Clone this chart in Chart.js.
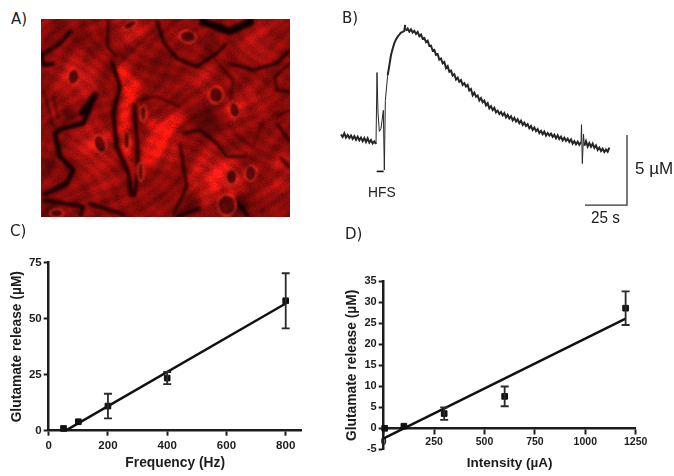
<!DOCTYPE html>
<html>
<head>
<meta charset="utf-8">
<script src="https://cdn.jsdelivr.net/npm/chart.js@4"></script>
<style>
  html, body { margin: 0; padding: 0; background: #fff; width: 674px; height: 476px; overflow: hidden; }
  canvas { position: absolute; }
  #trace, #freq, #intens { filter: blur(0.35px); }
  #photo { filter: blur(0.6px); }
  .lbl { position: absolute; font-family: "Liberation Sans", sans-serif; color: #222; white-space: nowrap; line-height: 1; }
  .panel { font-family: "DejaVu Sans", sans-serif; font-size: 15px; color: #222; }
</style>
</head>
<body>
<canvas id="photo" width="249" height="198" style="left:41px;top:19px"></canvas>
<canvas id="trace" width="339" height="235" style="left:335px;top:0"></canvas>
<canvas id="freq" width="330" height="256" style="left:0;top:220px"></canvas>
<canvas id="intens" width="339" height="256" style="left:335px;top:220px"></canvas>

<div class="lbl panel" style="left:11px;top:12px">A)</div>
<div class="lbl panel" style="left:342px;top:11px">B)</div>
<div class="lbl panel" style="left:10px;top:224px">C)</div>
<div class="lbl panel" style="left:345px;top:227px">D)</div>
<div class="lbl" style="left:368px;top:184px;font-size:15px;transform:scaleX(.92);transform-origin:left">HFS</div>
<div class="lbl" style="left:635px;top:160px;font-size:17px">5 µM</div>
<div class="lbl" style="left:591px;top:209px;font-size:17px;transform:scaleX(.9);transform-origin:left">25 s</div>

<script>
// panel C
const freqX = [50, 100, 200, 400, 800];
const freqY = [1, 4, 11, 23.5, 58];
const freqErr = [0, 0, 5.5, 2.7, 12.3];
const freqFitX = [57, 800];
const freqFitY = [0, 56.8];
const freqTicksX = [0, 200, 400, 600, 800];
const freqTicksY = [0, 25, 50, 75];

// panel D
const intensX = [5, 100, 300, 600, 1200];
const intensY = [0, 0.5, 3.5, 7.6, 28.6];
const intensErr = [0, 0, 1.5, 2.35, 4];
const intensFitX = [0, 1200];
const intensFitY = [-2.4, 26.1];
const intensTicksX = [0, 250, 500, 750, 1000, 1250];
const intensTicksY = [-5, 0, 5, 10, 15, 20, 25, 30, 35];

// panel B, recording (s, uM)
const traceT = [0,1,2,3,4,5,6,7,8,9,10,11,12,13,14,15,16,17,18,19,20,21,21.6,22.2,23,24,25.4,26,26.6,28,29,30,31,32,33,34,35,36,37,38,38.5,39,
  40,41,42,43,44,45,46,47,48,49,50,51,52,53,54,55,56,57,58,59,60,61,62,63,64,65,66,67,68,69,70,71,72,73,74,75,76,77,78,79,
  80,81,82,83,84,85,86,87,88,89,90,91,92,93,94,95,96,97,98,99,100,101,102,103,104,105,106,107,108,109,110,111,112,113,114,115,116,117,118,119,
  120,121,122,123,124,125,126,127,128,129,130,131,132,133,134,135,136,137,138,139,140,141,142,143,144,144.3,144.8,145.5,146,147,148,149,150,151,152,153,154,155,156,157,158,159,160,161];
const traceV = [0.28,0.1,0.36,0.06,0.24,0.02,0.2,-0.04,0.16,-0.1,0.12,-0.14,0.06,-0.2,0.02,-0.26,0,-0.3,-0.12,-0.36,-0.22,-0.4,4.7,1.8,0.5,0.7,2,-2.26,2.7,4.5,5.2,5.95,6.4,6.8,7.07,7.26,7.4,7.55,7.6,7.67,8.1,7.7,
  7.84,7.62,7.78,7.56,7.68,7.46,7.6,7.3,7.42,7.12,7.17,6.88,6.98,6.6,6.62,6.26,6.32,5.96,6.02,5.62,5.7,5.36,5.46,5.02,5.16,4.76,4.84,4.48,4.58,4.2,4.34,4.04,4.16,3.82,3.94,3.7,3.82,3.42,3.52,3.08,
  3.26,2.98,3.06,2.7,2.88,2.58,2.7,2.36,2.52,2.14,2.3,2.02,2.18,1.86,1.98,1.74,1.88,1.64,1.8,1.5,1.68,1.42,1.58,1.28,1.46,1.2,1.36,1.08,1.26,0.96,1.12,0.88,1.02,0.72,0.88,0.6,0.78,0.52,0.66,0.38,
  0.54,0.3,0.48,0.2,0.38,0.2,0.34,0.1,0.26,0,0.22,-0.04,0.12,-0.14,0.04,-0.18,-0.02,-0.26,-0.08,-0.38,-0.2,-0.42,-0.24,-0.46,-0.28,0.98,-1.8,0.3,-0.52,-0.2,-0.58,-0.34,-0.6,-0.38,-0.68,-0.5,-0.82,-0.66,-0.9,-0.74,-0.98,-0.8,-0.96,-0.66];
const hfsT = [21.4, 25.6];
const hfsV = [-2.36, -2.36];
const barT = [146.4, 171.6, 171.6];
const barV = [-4.76, -4.76, 0.24];

const INK = '#1c1c1c';
const zip = (xs, ys) => xs.map((x, i) => ({ x, y: ys[i] }));

// vertical error bars, pulled from the dataset's own err array
const errorBars = {
  id: 'errorBars',
  afterDatasetsDraw(chart) {
    const { ctx, scales: { x, y } } = chart;
    chart.data.datasets.forEach(ds => {
      if (!ds.err) return;
      ctx.save();
      ctx.strokeStyle = '#2a2a2a';
      ctx.lineWidth = 1.8;
      ds.data.forEach((p, i) => {
        if (!ds.err[i]) return;
        const px = x.getPixelForValue(p.x);
        const top = y.getPixelForValue(p.y + ds.err[i]);
        const bot = y.getPixelForValue(p.y - ds.err[i]);
        ctx.beginPath();
        ctx.moveTo(px, top); ctx.lineTo(px, bot);
        ctx.moveTo(px - 4, top); ctx.lineTo(px + 4, top);
        ctx.moveTo(px - 4, bot); ctx.lineTo(px + 4, bot);
        ctx.stroke();
      });
      ctx.restore();
    });
  }
};

function axis(ticks, extra) {
  return Object.assign({
    type: 'linear',
    grid: { drawOnChartArea: false, drawTicks: true, tickLength: 5, tickWidth: 2, tickColor: INK },
    border: { display: true, width: 2.5, color: INK },
    afterBuildTicks: s => { s.ticks = ticks.map(v => ({ value: v })); },
  }, extra);
}

function tickOpts(size, padding) {
  return {
    color: INK, padding, maxRotation: 0,
    font: { family: 'Liberation Sans', size, weight: 'bold' },
    callback: v => String(v),
  };
}

function titleOpts(text, size, padding) {
  return { display: true, text, color: INK, padding, font: { family: 'Liberation Sans', size, weight: 'bold' } };
}

function scatterChart(id, cfg) {
  return new Chart(document.getElementById(id), {
    type: 'scatter',
    data: {
      datasets: [
        { data: zip(cfg.fitX, cfg.fitY), showLine: true, borderColor: '#111', borderWidth: 2.5, pointRadius: 0, clip: false },
        { data: zip(cfg.x, cfg.y), err: cfg.err, pointStyle: 'rect', pointRadius: 4, backgroundColor: '#111', borderColor: '#111', clip: false },
      ],
    },
    options: {
      responsive: false,
      animation: false,
      devicePixelRatio: 1,
      layout: { padding: cfg.padding },
      plugins: { legend: { display: false }, tooltip: { enabled: false } },
      scales: cfg.scales,
    },
    plugins: [errorBars],
  });
}

scatterChart('freq', {
  x: freqX, y: freqY, err: freqErr, fitX: freqFitX, fitY: freqFitY,
  padding: { top: 42.7, right: 28.3, left: 0, bottom: 0 },
  scales: {
    x: axis(freqTicksX, {
      min: 0, max: 854,
      afterFit: s => { s.height = 45.3; },
      ticks: tickOpts(11.5, 3),
      title: titleOpts('Frequency (Hz)', 13.8, { top: 0, bottom: 5 }),
    }),
    y: axis(freqTicksY, {
      min: 0, max: 75,
      afterFit: s => { s.width = 48.7; },
      ticks: tickOpts(11.5, 2),
      title: titleOpts('Glutamate release (µM)', 13.8, { top: 9, bottom: 0 }),
    }),
  },
});

scatterChart('intens', {
  x: intensX, y: intensY, err: intensErr, fitX: intensFitX, fitY: intensFitY,
  padding: { top: 61.3, right: 38.3, left: 0, bottom: 26.7 },
  scales: {
    x: axis(intensTicksX, {
      min: 0, max: 1250,
      position: { y: 0 },
      afterFit: s => { s.height = 48; },
      ticks: tickOpts(10.5, 3),
      title: titleOpts('Intensity (µA)', 13.5, { top: 0, bottom: 5 }),
    }),
    y: axis(intensTicksY, {
      min: -5, max: 35,
      afterFit: s => { s.width = 48.7; },
      ticks: tickOpts(11, 2),
      title: titleOpts('Glutamate release (µM)', 13.8, { top: 9, bottom: 0 }),
    }),
  },
});

// the stimulation artefacts are thinner than the noisy body of the trace
const isArtefact = t => (t > 20.9 && t < 28) || (t > 38 && t < 39) || (t > 143.9 && t < 146);

new Chart(document.getElementById('trace'), {
  type: 'scatter',
  data: {
    datasets: [
      {
        data: zip(traceT, traceV), showLine: true, borderColor: '#262626', borderWidth: 2, pointRadius: 0, tension: 0,
        segment: { borderWidth: c => (isArtefact(c.p0.parsed.x) ? 1 : 2) },
      },
      { data: zip(hfsT, hfsV), showLine: true, borderColor: '#111', borderWidth: 1.6, pointRadius: 0 },
      { data: zip(barT, barV), showLine: true, borderColor: '#333', borderWidth: 1.3, pointRadius: 0 },
    ],
  },
  options: {
    responsive: false,
    animation: false,
    devicePixelRatio: 1,
    plugins: { legend: { display: false }, tooltip: { enabled: false } },
    scales: {
      x: { type: 'linear', display: false, min: -3.6, max: 199.8 },
      y: { type: 'linear', display: false, min: -6.9, max: 9.88 },
    },
  },
});

// panel A is a micrograph, not data: painted by hand on a plain canvas
(function paintPhoto() {
  const cv = document.getElementById('photo');
  const ctx = cv.getContext('2d');
  ctx.save();
  ctx.scale(1 / 3, 1 / 3);
  ctx.translate(-123, -57);
  ctx.fillStyle = '#8f0c0a';
  ctx.fillRect(0, 0, 900, 700);

  const blob = (x, y, r, rgb, a) => {
    const g = ctx.createRadialGradient(x, y, 0, x, y, r);
    g.addColorStop(0, `rgba(${rgb},${a})`);
    g.addColorStop(1, `rgba(${rgb},0)`);
    ctx.fillStyle = g;
    ctx.fillRect(x - r, y - r, 2 * r, 2 * r);
  };
  [
    [780, 130, 90, 0.5], [400, 90, 70, 0.55], [230, 230, 85, 0.8], [280, 430, 85, 0.8],
    [650, 530, 105, 1], [700, 330, 50, 0.7], [610, 240, 60, 0.45], [300, 530, 70, 0.4],
    [850, 490, 50, 0.6], [480, 440, 80, 0.8], [760, 300, 60, 0.4], [170, 320, 50, 0.25],
    [830, 560, 50, 0.4],
  ].forEach(([x, y, r, a]) => blob(x, y, r, '255,30,25', a));
  [
    [620, 360, 60, 0.6], [730, 620, 50, 0.6], [250, 120, 40, 0.3], [150, 500, 40, 0.4],
    [480, 200, 60, 0.25], [820, 130, 50, 0.2], [440, 400, 30, 0.5], [200, 340, 35, 0.5],
    [180, 90, 45, 0.25], [620, 130, 40, 0.3], [570, 620, 45, 0.4], [150, 640, 60, 0.4],
  ].forEach(([x, y, r, a]) => blob(x, y, r, '20,0,0', a));

  // bright spindle and triangle cell
  ctx.filter = 'blur(3px)';
  ctx.fillStyle = '#f5180f';
  [
    [[345, 180], [400, 220], [425, 270], [395, 310], [385, 400], [400, 540], [375, 470], [355, 400], [365, 290]],
    [[420, 520], [450, 360], [560, 340], [500, 440]],
  ].forEach(poly => {
    ctx.beginPath();
    poly.forEach(([x, y], i) => (i ? ctx.lineTo(x, y) : ctx.moveTo(x, y)));
    ctx.closePath();
    ctx.fill();
  });

  // dark gaps between cells
  ctx.filter = 'blur(1.5px)';
  ctx.strokeStyle = '#0c0000';
  ctx.lineJoin = 'round';
  [
    [10, [[215, 90], [180, 130], [125, 165], [130, 195], [165, 190]]],
    [6, [[325, 60], [322, 140], [350, 170]]],
    [11, [[335, 185], [360, 260], [340, 340], [350, 440], [385, 520], [395, 590]]],
    [9, [[402, 310], [412, 430], [415, 520], [402, 590]]],
    [8, [[470, 60], [490, 125], [530, 175], [590, 200], [650, 160], [680, 130]]],
    [22, [[600, 62], [690, 95], [760, 62]]],
    [8, [[690, 190], [760, 210], [830, 190], [870, 150]]],
    [6, [[870, 190], [825, 230], [830, 270], [870, 275]]],
    [14, [[240, 345], [285, 285], [250, 370], [190, 385], [165, 400], [180, 470], [220, 510], [200, 550], [130, 585]]],
    [4, [[410, 300], [470, 290], [540, 320]]],
    [7, [[550, 400], [600, 390], [650, 430], [680, 470], [740, 470]]],
    [7, [[520, 645], [560, 560], [540, 430]]],
    [5, [[830, 350], [870, 330]]],
    [7, [[830, 370], [870, 425]]],
    [7, [[840, 470], [870, 505]]],
    [10, [[130, 600], [250, 620], [240, 650]]],
    [9, [[375, 645], [265, 610]]],
    [10, [[705, 600], [745, 650]]],
    [10, [[600, 625], [530, 650]]],
    [3, [[345, 200], [440, 110], [470, 85]]],
    [4, [[160, 290], [175, 360]]],
    [4, [[130, 270], [160, 380]]],
    [3, [[700, 400], [760, 440], [790, 360]]],
    [4, [[630, 160], [700, 240], [690, 300]]],
  ].forEach(([w, pts]) => {
    ctx.lineWidth = w;
    ctx.beginPath();
    pts.forEach(([x, y], i) => (i ? ctx.lineTo(x, y) : ctx.moveTo(x, y)));
    ctx.stroke();
  });

  // nuclei
  ctx.filter = 'blur(1px)';
  [
    [220, 230, 17, 25, 0.2], [300, 432, 18, 28, -0.3], [380, 422, 10, 28, 0], [563, 110, 25, 18, 0.2],
    [390, 75, 22, 11, -0.5], [703, 330, 16, 24, -0.2], [648, 285, 22, 25, 0], [695, 530, 17, 24, 0],
    [752, 520, 18, 24, 0.1], [680, 615, 28, 32, 0], [430, 340, 10, 25, 0], [422, 515, 9, 28, 0], [170, 640, 20, 13, 0],
  ].forEach(([x, y, rx, ry, rot]) => {
    ctx.fillStyle = 'rgba(85,8,8,0.95)';
    ctx.strokeStyle = 'rgba(255,50,35,0.85)';
    ctx.lineWidth = 5;
    ctx.beginPath();
    ctx.ellipse(x, y, rx, ry, rot, 0, Math.PI * 2);
    ctx.fill();
    ctx.stroke();
  });
  ctx.restore();

  // soft fibrous mottling over the whole picture, fixed pattern
  const img = ctx.getImageData(0, 0, cv.width, cv.height);
  for (let y = 0; y < cv.height; y++) {
    for (let x = 0; x < cv.width; x++) {
      const a = Math.sin(x * 0.31 + 3 * Math.sin(y * 0.07));
      const b = Math.sin(y * 0.37 + 3 * Math.sin(x * 0.05));
      const c = Math.sin((x + y) * 0.19 + 2 * Math.sin((x - y) * 0.04));
      const h = Math.sin(x * 12.9898 + y * 78.233) * 43758.5453;
      const grain = h - Math.floor(h);
      const m = 0.95 + 0.13 * a * b + 0.09 * c + 0.2 * (grain - 0.5);
      const i = (y * cv.width + x) * 4;
      img.data[i] = Math.min(255, img.data[i] * m);
      img.data[i + 1] *= m;
      img.data[i + 2] *= m;
    }
  }
  ctx.putImageData(img, 0, 0);
})();
</script>
</body>
</html>
